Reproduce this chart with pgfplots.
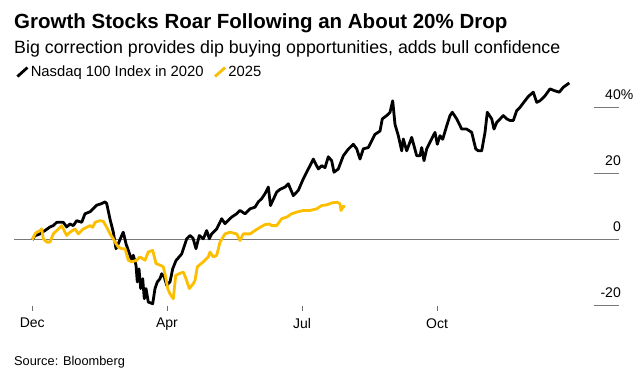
\documentclass[border=0pt]{standalone}
\usepackage{fontspec}
\setmainfont{Liberation Sans}
\usepackage{pgfplots}
\pgfplotsset{compat=1.18}
\definecolor{bbyellow}{RGB}{253,190,0}
\definecolor{zgray}{RGB}{120,120,120}
\definecolor{tgray}{RGB}{110,110,110}
\begin{document}
\begin{tikzpicture}
\path[use as bounding box] (0pt,0pt) rectangle (644pt,382pt);
\node[anchor=base west, inner sep=0pt, font=\fontsize{20.5}{23}\selectfont\bfseries] at (14pt,353.5pt) {Growth Stocks Roar Following an About 20\% Drop};
\node[anchor=base west, inner sep=0pt, font=\fontsize{17.8}{21}\selectfont] at (14pt,328.5pt) {Big correction provides dip buying opportunities, adds bull confidence};
\node[anchor=base west, inner sep=0pt, font=\fontsize{12.8}{15}\selectfont] at (14pt,16pt) {Source: Bloomberg};
\begin{axis}[
  at={(14pt,76.3pt)}, anchor=south west,
  scale only axis, width=604pt, height=230.65pt,
  xmin=14, xmax=618, ymin=-20, ymax=50,
  axis line style={draw=none},
  clip=false,
  xtick={32.3,167,302,437}, xticklabels={Dec,Apr,Jul,Oct},
  ytick={-20,0,20,40}, yticklabels={-20,0,20,40\rlap{\%}},
  xtick pos=bottom, ytick pos=right, yticklabel pos=right,
  tick align=outside, major tick length=5pt,
  xtick style={draw=tgray, line width=1pt},
  ytick style={draw=none},
  ticklabel style={font=\fontsize{14}{16}\selectfont, text=black},
  xticklabel style={yshift=-4pt},
  yticklabel style={anchor=base east, inner sep=0pt, xshift=-2pt, yshift=8pt},
  legend style={at={(0.003,1.013)}, anchor=west, draw=none, fill=none,
    inner sep=0pt, font=\fontsize{14.8}{17}\selectfont,
    /tikz/every even column/.append style={column sep=8pt}},
  legend columns=2,
  legend image code/.code={\draw[#1] (0pt,-4.5pt) -- (10pt,4.5pt);},
]
\draw[zgray, line width=1.2pt] (axis cs:14,0) -- (axis cs:619,0);
\draw[zgray, line width=1pt] (axis cs:594,20) -- (axis cs:619,20);
\draw[zgray, line width=1pt] (axis cs:594,40) -- (axis cs:619,40);
\draw[zgray, line width=1pt] (axis cs:594,-20) -- (axis cs:619,-20);
\addplot[black, line width=2.8pt, line join=round] coordinates {
(32.3,0) (35,1.3) (36.7,1.4) (40,1.8) (43.3,2.5) (45,2.8) (50,3.9) (53.3,4.3) (56.7,5.3) (63.3,5.3) (66.7,3.9) (70,4.8) (73.3,4.3) (76.7,5.8) (81.7,5.3) (85,7.9) (90,8.5) (93.3,9.5) (96.7,10.5) (101.7,11) (105,11.5) (106.7,11) (110,6.3) (113.3,2.3) (116,-2.7) (118.3,-1.2) (121.7,1.3) (123.3,2.3) (126,-1.2) (128.3,-3.2) (131.7,-6.2) (133.3,-4.7) (136,-7.7) (137.3,-12.8) (139,-8.8) (140.7,-14.8) (142.7,-11.8) (144.3,-17.9) (146,-14.8) (148.3,-18.9) (152.7,-19.4) (155,-14.8) (157.3,-12.8) (160,-11.8) (161.7,-10.3) (164.3,-11.3) (166.7,-13.8) (170,-12.8) (172.7,-8.8) (176,-6.3) (181.7,-4.3) (186.7,0.3) (190,1.3) (193,0.5) (196,-2.7) (199.3,1.3) (203.3,0.3) (206.7,2.8) (209.3,0.3) (211.7,1.8) (216.7,3.3) (221.7,6.4) (225,4.9) (228.3,5.9) (231.7,6.9) (236.7,7.9) (240,8.9) (245,7.9) (250,9.4) (255,9.9) (258.3,11.5) (261.7,12.5) (265,14) (268.3,16) (270.5,10.4) (276.7,14.5) (280,15.3) (285,16) (288.3,17) (293.3,13.4) (298.3,15) (303.3,18.5) (310,22.5) (313.3,24.5) (318.3,21.5) (321.7,22.5) (325,21.9) (328.3,25.2) (331.7,24) (334,20.5) (338.3,21.5) (343.3,25.5) (348.3,27.5) (353.3,29) (356.7,27.6) (360,24.5) (363.3,27.6) (368.3,28) (371.7,30) (375,32) (380,33) (382.3,36.7) (386.7,37.7) (390,38.7) (392.7,42.2) (395,35) (398.3,31.6) (401.7,27) (403.3,30.6) (406.7,27) (411.7,31.1) (416.7,25.5) (420,25.5) (421.7,28) (424,24) (426.7,27.6) (430,29.6) (435,32.6) (437.3,29) (440,31.6) (442.7,30.5) (446.7,34.6) (450,37.7) (452.3,38.7) (456.7,36.7) (461.7,33.6) (466.7,33.6) (471.7,32.6) (473.3,30.6) (475.7,27.6) (478.3,27) (481.7,27) (485,32.6) (487.3,38.7) (491.7,36.7) (494,33.6) (496.7,35.6) (503.3,37.7) (506.7,36.7) (510,36.2) (513.3,36.2) (516.7,39.2) (520,40.2) (525,42.2) (528.3,43.5) (533.3,44.8) (536.7,41.7) (540,42.2) (545,43.7) (550,45.8) (555,45.2) (559.3,44.8) (563.3,46.3) (569.3,47.6)
};
\addlegendentry{Nasdaq 100 Index in 2020}
\addplot[bbyellow, line width=2.8pt, line join=round] coordinates {
(32.3,0) (35,1.8) (36.7,2.3) (40,2.8) (41.7,3.3) (43.3,0.3) (46.7,-0.7) (50,-0.7) (53.3,1.8) (56.7,2.8) (61.7,4.3) (66.7,1.3) (70,2.3) (75,3.3) (78.3,1.8) (83.3,3.3) (86.7,3.8) (90,4.3) (92.7,3.8) (95,5.3) (100,5.8) (103.3,5.6) (106.7,3.8) (110,1.8) (113.3,0.3) (115,-0.7) (118.3,-2.2) (121.7,-2.7) (125,-2.7) (128.3,-6.2) (131.7,-6.7) (136.7,-6.2) (140,-5.2) (145,-6.2) (148.3,-3.7) (152.7,-3.2) (156,-7.2) (160,-7.7) (163.3,-8.2) (166,-11.8) (167.7,-14.8) (170,-16.4) (173.3,-17.9) (175.7,-10.8) (179,-10.3) (183.3,-9.8) (186,-11.8) (189.3,-14.8) (193.3,-13.3) (195,-12.3) (197.3,-8.2) (200,-7.5) (203.3,-6.7) (208.3,-5.2) (210,-3.7) (213.3,-5.2) (216.7,-4.7) (220,-0.7) (225,1.8) (230,2.3) (236.7,1.8) (240,-0.2) (243.3,1.8) (250,1.8) (255,2.8) (260,3.8) (265,4.6) (269.3,4.8) (271.7,4.3) (276.7,4.3) (281.7,6.4) (286.7,6.9) (291.7,7.9) (296.7,8.4) (303.3,8.9) (310,8.9) (316.7,9.4) (321.7,10.4) (326.7,10.6) (331.7,11.2) (337.3,11.4) (340,10.9) (341,8.9) (343.3,10.2) (345,9.9)
};
\addlegendentry{2025}
\end{axis}
\end{tikzpicture}
\end{document}
